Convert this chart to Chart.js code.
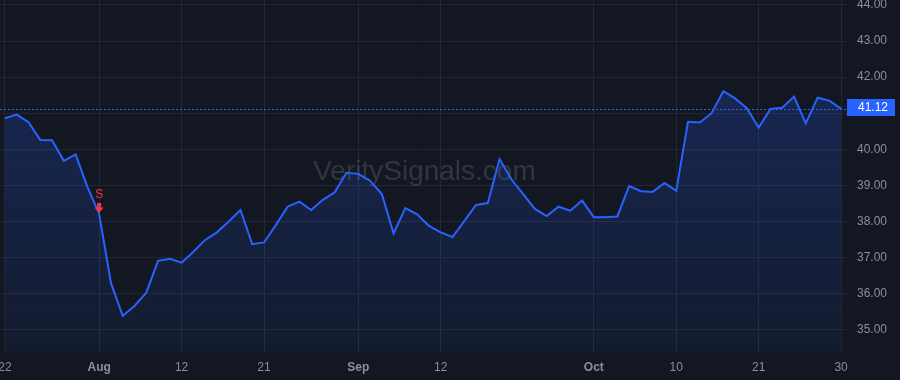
<!DOCTYPE html>
<html>
<head>
<meta charset="utf-8">
<script src="https://cdn.jsdelivr.net/npm/chart.js@4.4.1/dist/chart.umd.min.js"></script>
<style>
  html, body { margin: 0; padding: 0; background: #131722; }
  #wrap { width: 900px; height: 380px; position: relative; background: #131722; }
</style>
</head>
<body>
<div id="wrap"><canvas id="c"></canvas></div>
<script>
// Trading days (2024)
const dates = [
  "Jul 22","Jul 23","Jul 24","Jul 25","Jul 26","Jul 29","Jul 30","Jul 31",
  "Aug 1","Aug 2","Aug 5","Aug 6","Aug 7","Aug 8","Aug 9","Aug 12","Aug 13","Aug 14","Aug 15","Aug 16",
  "Aug 19","Aug 20","Aug 21","Aug 22","Aug 23","Aug 26","Aug 27","Aug 28","Aug 29","Aug 30",
  "Sep 3","Sep 4","Sep 5","Sep 6","Sep 9","Sep 10","Sep 11","Sep 12","Sep 13","Sep 16","Sep 17","Sep 18",
  "Sep 19","Sep 20","Sep 23","Sep 24","Sep 25","Sep 26","Sep 27","Sep 30",
  "Oct 1","Oct 2","Oct 3","Oct 4","Oct 7","Oct 8","Oct 9","Oct 10","Oct 11","Oct 14","Oct 15","Oct 16",
  "Oct 17","Oct 18","Oct 21","Oct 22","Oct 23","Oct 24","Oct 25","Oct 28","Oct 29","Oct 30"
];
const prices = [
  40.86,40.96,40.75,40.26,40.25,39.68,39.86,38.96,
  38.21,36.30,35.39,35.66,36.03,36.91,36.97,36.86,37.16,37.49,37.70,38.00,
  38.32,37.37,37.42,37.90,38.41,38.55,38.32,38.60,38.81,39.35,
  39.32,39.13,38.76,37.67,38.37,38.20,37.88,37.70,37.57,38.01,38.46,38.51,
  39.73,39.17,38.76,38.35,38.15,38.41,38.30,38.58,
  38.12,38.12,38.14,38.98,38.84,38.82,39.07,38.85,40.76,40.74,41.00,41.61,
  41.41,41.14,40.60,41.12,41.15,41.46,40.72,41.43,41.35,41.12
];
const xTickIndex = [0, 8, 15, 22, 30, 37, 50, 57, 64, 71];
const xTickText  = ["22", "Aug", "12", "21", "Sep", "12", "Oct", "10", "21", "30"];
const monthLabels = ["Aug", "Sep", "Oct"];
const yTicks = [35, 36, 37, 38, 39, 40, 41, 42, 43, 44];
const yHiddenLabels = [41]; // covered by the last-price label
const signalIndex = 8;
const signalText = "S";
const watermarkText = "VeritySignals.com";

const BG = "#131722";
const GRID = "#232733";
const TEXT = "#8c8f99";
const BLUE = "#2962ff";
const RED = "#f23645";
const FONT = "'Liberation Sans', Arial, sans-serif";

const lastPrice = prices[prices.length - 1];

const overlay = {
  id: "overlay",
  beforeDatasetsDraw(chart) {
    const { ctx, chartArea: a, scales: { y } } = chart;
    ctx.save();
    // watermark
    ctx.fillStyle = "rgba(255,255,255,0.13)";
    ctx.font = "28px " + FONT;
    ctx.textAlign = "center";
    ctx.textBaseline = "middle";
    ctx.fillText(watermarkText, (a.left + a.right) / 2 + 1, 172);
    // last price dotted line
    const py = Math.round(y.getPixelForValue(lastPrice)) + 0.5;
    ctx.strokeStyle = BLUE;
    ctx.lineWidth = 1;
    ctx.setLineDash([2, 2]);
    ctx.beginPath();
    ctx.moveTo(a.left, py);
    ctx.lineTo(a.right, py);
    ctx.stroke();
    ctx.restore();
  },
  afterDraw(chart) {
    const { ctx, chartArea: a, scales: { x, y } } = chart;
    ctx.save();
    // price label
    const py = Math.round(y.getPixelForValue(lastPrice));
    ctx.fillStyle = BLUE;
    ctx.fillRect(a.right, py - 10, 48, 17);
    ctx.fillStyle = "#ffffff";
    ctx.font = "12px " + FONT;
    ctx.textAlign = "left";
    ctx.textBaseline = "middle";
    ctx.fillText(lastPrice.toFixed(2), a.right + 11, py - 1);
    // sell signal marker
    const sx = x.getPixelForValue(signalIndex);
    const sy = y.getPixelForValue(prices[signalIndex]);
    ctx.fillStyle = RED;
    ctx.beginPath();
    ctx.moveTo(sx, sy - 1);
    ctx.lineTo(sx - 4.5, sy - 6.5);
    ctx.lineTo(sx - 2, sy - 6.5);
    ctx.lineTo(sx - 2, sy - 11);
    ctx.lineTo(sx + 2, sy - 11);
    ctx.lineTo(sx + 2, sy - 6.5);
    ctx.lineTo(sx + 4.5, sy - 6.5);
    ctx.closePath();
    ctx.fill();
    ctx.font = "12px " + FONT;
    ctx.textAlign = "center";
    ctx.textBaseline = "middle";
    ctx.fillText(signalText, sx, sy - 19);
    ctx.restore();
  }
};

new Chart(document.getElementById("c"), {
  type: "line",
  data: {
    datasets: [{
      data: prices.map((v, i) => ({ x: i, y: v })),
      borderColor: BLUE,
      borderWidth: 2,
      pointRadius: 0,
      tension: 0,
      fill: "start",
      backgroundColor(ctx) {
        const a = ctx.chart.chartArea;
        if (!a) return "rgba(41,98,255,0.15)";
        const g = ctx.chart.ctx.createLinearGradient(0, 90, 0, a.bottom);
        g.addColorStop(0, "rgba(41,98,255,0.22)");
        g.addColorStop(1, "rgba(41,98,255,0.06)");
        return g;
      }
    }]
  },
  options: {
    responsive: true,
    maintainAspectRatio: false,
    animation: false,
    layout: { padding: 0 },
    plugins: { legend: { display: false }, tooltip: { enabled: false } },
    scales: {
      x: {
        type: "linear",
        min: -0.42,
        max: 71.5,
        border: { display: false },
        grid: { color: GRID, drawTicks: false },
        afterBuildTicks(s) { s.ticks = xTickIndex.map(v => ({ value: v })); },
        afterFit(s) { s.paddingLeft = 0; s.paddingRight = 0; s.height = 28; },
        ticks: {
          autoSkip: false,
          maxRotation: 0,
          padding: 8,
          color: TEXT,
          callback: (v, i) => xTickText[i],
          font: (c) => ({
            family: FONT,
            size: 12,
            weight: (c.tick && monthLabels.includes(c.tick.label)) ? "bold" : "normal"
          })
        }
      },
      y: {
        position: "right",
        min: 34.385,
        max: 44.136,
        border: { display: false },
        grid: { color: GRID, drawTicks: false },
        afterBuildTicks(s) { s.ticks = yTicks.map(v => ({ value: v })); },
        afterFit(s) { s.width = 53; s.paddingTop = 0; s.paddingBottom = 0; },
        ticks: {
          padding: 10,
          color: TEXT,
          font: { family: FONT, size: 12 },
          callback: (v) => yHiddenLabels.includes(Number(v)) ? "" : Number(v).toFixed(2)
        }
      }
    }
  },
  plugins: [overlay]
});
</script>
</body>
</html>
